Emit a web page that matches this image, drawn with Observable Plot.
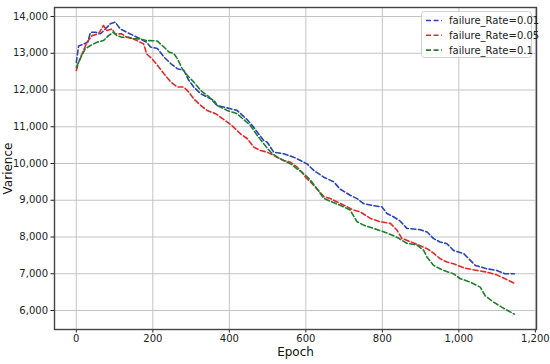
<!DOCTYPE html>
<html><head><meta charset="utf-8">
<script src="https://cdn.jsdelivr.net/npm/d3@7"></script>
<script src="https://cdn.jsdelivr.net/npm/@observablehq/plot@0.6"></script>
<style>body{margin:0;background:#fff} #chart{width:550px;height:364px}</style>
</head><body><div id="chart"></div>
<script>
const seriesNames = ["failure_Rate=0.01", "failure_Rate=0.05", "failure_Rate=0.1"];
const seriesColors = ["#2a45b5", "#e02a2a", "#1f7f2f"];
const xTicks = [0, 200, 400, 600, 800, 1000, 1200];
const yTicks = [6000, 7000, 8000, 9000, 10000, 11000, 12000, 13000, 14000];

const epochs001 = [0,6,19,30,37,50,63,76,89,102,115,132,150,167,184,194,212,229,247,264,281,294,307,325,342,360,368,403,420,447,460,473,490,499,516,542,568,586,603,621,647,673,690,716,734,751,777,799,812,829,847,864,899,917,934,951,969,986,1013,1030,1043,1073,1099,1121,1145];
const values001 = [12750,13200,13250,13300,13570,13570,13530,13660,13800,13845,13660,13570,13480,13390,13300,13170,13127,12900,12718,12580,12536,12263,12080,11900,11810,11718,11580,11490,11445,11190,11036,10855,10627,10580,10310,10263,10173,10080,9990,9810,9627,9500,9300,9135,9045,8910,8850,8820,8640,8550,8430,8234,8200,8136,7955,7864,7818,7636,7545,7364,7227,7136,7090,7000,7000];

const epochs005 = [0,6,15,28,41,58,71,80,93,102,119,132,150,167,176,184,198,212,229,247,264,281,294,307,325,342,364,385,405,429,447,464,481,499,516,542,560,577,590,599,612,630,647,664,682,708,725,742,769,795,821,838,851,873,899,917,934,951,969,986,1013,1048,1073,1099,1121,1145];
const values005 = [12530,12755,12980,13300,13480,13527,13755,13618,13660,13527,13527,13436,13390,13300,13255,12980,12850,12673,12445,12218,12080,12080,11945,11763,11580,11445,11355,11200,11050,10809,10673,10445,10355,10310,10218,10082,10036,9900,9763,9627,9500,9300,9100,9045,8955,8820,8730,8685,8505,8414,8370,8190,7964,7874,7760,7682,7560,7409,7318,7273,7160,7090,7045,6970,6864,6740];

const epochs01 = [0,10,23,37,54,71,84,97,106,119,137,150,167,184,202,212,229,242,255,264,277,290,307,325,347,368,394,420,437,455,473,490,508,525,542,560,577,595,612,630,647,664,690,716,734,751,777,803,825,843,864,890,908,917,934,960,986,1004,1030,1056,1069,1091,1112,1145];
const values01 = [12618,12845,13118,13210,13300,13345,13480,13570,13480,13436,13436,13390,13390,13345,13340,13330,13170,13036,12990,12855,12580,12400,12218,11990,11810,11580,11445,11355,11200,11036,10763,10536,10310,10173,10082,9990,9855,9718,9550,9300,9050,8970,8865,8730,8414,8324,8234,8144,8054,7964,7829,7784,7638,7450,7227,7090,7000,6864,6773,6636,6400,6227,6091,5900];

const seriesEpochs = [epochs001, epochs005, epochs01];
const seriesValues = [values001, values005, values01];

const data = [];
seriesNames.forEach((name, i) => {
  seriesEpochs[i].forEach((e, j) => data.push({series: name, epoch: e, value: seriesValues[i][j]}));
});

const fmt = d3.format(",");
const chart = Plot.plot({
  width: 550, height: 364,
  marginLeft: 54, marginRight: 14, marginTop: 7, marginBottom: 35,
  style: {fontFamily: "DejaVu Sans", fontSize: "10px", color: "#222", background: "#fff", overflow: "visible"},
  x: {domain: [-57, 1203], ticks: xTicks, tickFormat: fmt, tickSize: 3.5, tickPadding: 2, label: null},
  y: {domain: [5483, 14245], ticks: yTicks, tickFormat: fmt, tickSize: 3.5, tickPadding: 3, label: null},
  color: {domain: seriesNames, range: seriesColors},
  marks: [
    Plot.ruleX(xTicks, {stroke: "#c4c4c4", strokeWidth: 1}),
    Plot.ruleY(yTicks, {stroke: "#c4c4c4", strokeWidth: 1}),
    Plot.line(data, {x: "epoch", y: "value", z: "series", stroke: "series", strokeWidth: 1.6, strokeDasharray: "5,2.6"}),
    Plot.frame({stroke: "#444", strokeWidth: 1.4}),
    Plot.text(["Epoch"], {frameAnchor: "bottom", dy: 26, fontSize: 12, fill: "#111"}),
    Plot.text(["Varience"], {frameAnchor: "left", dx: -46, rotate: -90, textAnchor: "middle", fontSize: 12, fill: "#111"})
  ]
});
document.getElementById("chart").appendChild(chart);

// legend
const svg = d3.select(chart);
const lg = svg.append("g").attr("font-family", "DejaVu Sans").attr("font-size", 10).attr("text-anchor", "start");
lg.append("rect").attr("x", 421.5).attr("y", 11.5).attr("width", 110).attr("height", 46)
  .attr("rx", 3).attr("fill", "#fff").attr("fill-opacity", 0.85).attr("stroke", "#d0d0d0");
seriesNames.forEach((name, i) => {
  const y = 20.5 + i * 14.8;
  lg.append("line").attr("x1", 426).attr("x2", 442).attr("y1", y).attr("y2", y)
    .attr("stroke", seriesColors[i]).attr("stroke-width", 1.6).attr("stroke-dasharray", "5,2.6");
  lg.append("text").attr("x", 449).attr("y", y).attr("dy", "0.35em").attr("text-anchor", "start")
    .attr("fill", "#222").text(name);
});
</script>
</body></html>
